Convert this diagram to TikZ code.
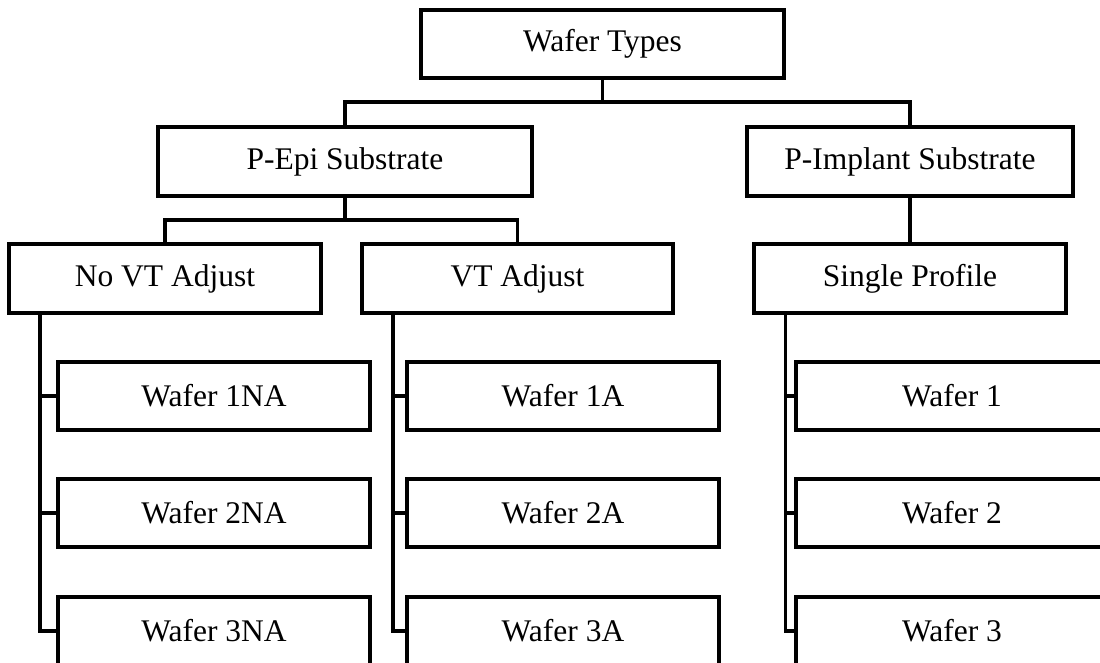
\documentclass[tikz,border=0pt]{standalone}
\usepackage{fontspec}
\setmainfont{Liberation Serif}
\begin{document}
\begin{tikzpicture}[x=1pt,y=-1pt,
  box/.style={draw=black, line width=3.2pt, fill=white, rectangle, inner sep=0pt,
    minimum height=68pt, font=\fontsize{31.5}{36}\selectfont},
  conn/.style={draw=black, line width=3.1pt}]
\useasboundingbox (0,0) rectangle (1100,663);
% level 0
\node[box, minimum width=363pt] (wt) at (602.5,44) {Wafer Types};
% level 1
\node[box, minimum width=374pt, minimum height=69pt] (pepi) at (345,161.5) {P-Epi Substrate};
\node[box, minimum width=326pt, minimum height=69pt] (pimp) at (910,161.5) {P-Implant Substrate};
% level 2
\node[box, minimum width=312pt, minimum height=69pt] (nova) at (165,278.5) {No VT Adjust};
\node[box, minimum width=311pt, minimum height=69pt] (va) at (517.5,278.5) {VT Adjust};
\node[box, minimum width=312pt, minimum height=69pt] (sp) at (910,278.5) {Single Profile};
% leaves
\node[box, minimum width=312pt] (n1) at (214,396) {Wafer 1NA};
\node[box, minimum width=312pt] (n2) at (214,513) {Wafer 2NA};
\node[box, minimum width=312pt] (n3) at (214,631) {Wafer 3NA};
\node[box, minimum width=312pt] (a1) at (563,396) {Wafer 1A};
\node[box, minimum width=312pt] (a2) at (563,513) {Wafer 2A};
\node[box, minimum width=312pt] (a3) at (563,631) {Wafer 3A};
\node[box, minimum width=312pt] (w1) at (952,396) {Wafer 1};
\node[box, minimum width=312pt] (w2) at (952,513) {Wafer 2};
\node[box, minimum width=312pt] (w3) at (952,631) {Wafer 3};
% junctions
\coordinate (j1) at (602.5,102);
\coordinate (j2) at (345,220);
\coordinate (sn) at (40,313);
\coordinate (sa) at (393,313);
\coordinate (ss) at (785.5,313);
% connectors
\draw[conn] (wt.south) -- (j1);
\draw[conn] (pepi.north) |- (j1) -| (pimp.north);
\draw[conn] (pepi.south) -- (j2);
\draw[conn] (nova.north) |- (j2) -| (va.north);
\draw[conn] (pimp.south) -- (sp.north);
\draw[conn] (sn) |- (n3.west);
\draw[conn] (n1.west) -- (n1.west -| sn);
\draw[conn] (n2.west) -- (n2.west -| sn);
\draw[conn] (sa) |- (a3.west);
\draw[conn] (a1.west) -- (a1.west -| sa);
\draw[conn] (a2.west) -- (a2.west -| sa);
\draw[conn] (ss) |- (w3.west);
\draw[conn] (w1.west) -- (w1.west -| ss);
\draw[conn] (w2.west) -- (w2.west -| ss);
\end{tikzpicture}
\end{document}
